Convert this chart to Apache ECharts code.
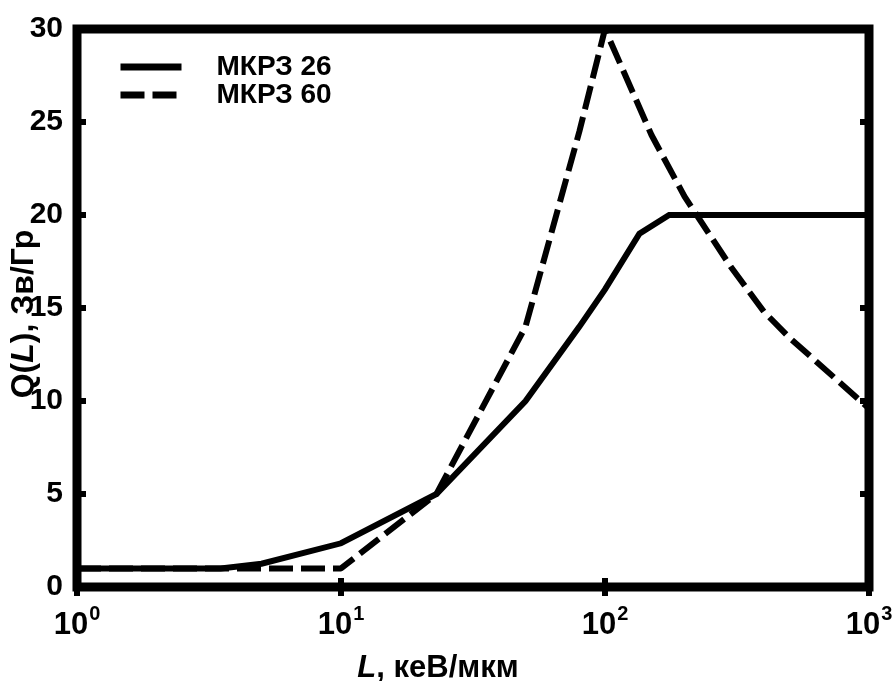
<!DOCTYPE html>
<html>
<head>
<meta charset="utf-8">
<script src="https://cdn.jsdelivr.net/npm/echarts@6/dist/echarts.min.js"></script>
<style>
  html, body { margin: 0; padding: 0; background: #fff; }
  #chart { width: 896px; height: 681px; }
</style>
</head>
<body>
<div id="chart"></div>
<script>
// L, keV/um  ->  Q(L), Sv/Gy
const seriesNames = ['МКРЗ 26', 'МКРЗ 60']
const icrp26 = [[1, 1], [3.5, 1], [5, 1.25], [10, 2.35], [23, 5], [50, 10], [80, 14], [100, 16], [135, 19], [175, 20], [1000, 20]]
const icrp60 = [[1, 1], [10, 1], [23, 5], [50, 14], [80, 24.5], [100, 30], [150, 24.3], [200, 21], [300, 17.2], [400, 14.8], [500, 13.4], [1000, 9.6]]
const yTicks = [0, 5, 10, 15, 20, 25, 30]

const font = 'Liberation Sans, Arial, sans-serif'
const chart = echarts.init(document.getElementById('chart'))

const tickStyle = { show: true, inside: true, length: 9, lineStyle: { color: '#000', width: 6 } }

chart.setOption({
  animation: false,
  backgroundColor: '#fff',
  grid: {
    left: 77,
    right: 27,
    top: 29,
    bottom: 94,
    outerBoundsMode: 'none',
    containLabel: false,
    show: true,
    borderColor: '#000',
    borderWidth: 9,
    backgroundColor: 'transparent'
  },
  legend: {
    orient: 'vertical',
    left: 112,
    top: 48,
    itemWidth: 61,
    itemHeight: 28,
    itemGap: 0,
    data: seriesNames,
    itemStyle: { opacity: 0 },
    lineStyle: { width: 7 },
    textStyle: {
      fontFamily: font,
      fontWeight: 'bold',
      fontSize: 28,
      color: '#000',
      lineHeight: 28,
      padding: [0, 0, 0, 30]
    }
  },
  xAxis: [
    {
      type: 'log',
      logBase: 10,
      min: 1,
      max: 1000,
      position: 'bottom',
      axisLine: { show: false },
      axisTick: tickStyle,
      splitLine: { show: false },
      minorTick: { show: false },
      axisLabel: {
        margin: 17,
        formatter: v => '{b|10}{s|' + Math.round(Math.log10(v)) + '}',
        rich: {
          b: { fontFamily: font, fontWeight: 'bold', fontSize: 31, color: '#000' },
          s: { fontFamily: font, fontWeight: 'bold', fontSize: 20, color: '#000', padding: [0, 0, 22, 1] }
        }
      },
      name: '{i|L}{n|, кеВ/мкм}',
      nameLocation: 'middle',
      nameGap: 66,
      nameMoveOverlap: false,
      nameTextStyle: {
        padding: [0, 70, 0, 0],
        rich: {
          i: { fontFamily: font, fontWeight: 'bold', fontStyle: 'italic', fontSize: 31, color: '#000' },
          n: { fontFamily: font, fontWeight: 'bold', fontSize: 31, color: '#000' }
        }
      }
    },
    {
      type: 'log',
      logBase: 10,
      min: 1,
      max: 1000,
      position: 'top',
      axisLine: { show: false },
      axisTick: tickStyle,
      axisLabel: { show: false },
      splitLine: { show: false }
    }
  ],
  yAxis: [
    {
      type: 'value',
      min: yTicks[0],
      max: yTicks[yTicks.length - 1],
      interval: 5,
      position: 'left',
      axisLine: { show: false },
      axisTick: tickStyle,
      splitLine: { show: false },
      axisLabel: {
        margin: 14,
        fontFamily: font,
        fontWeight: 'bold',
        fontSize: 30,
        color: '#000'
      },
      name: '{i|Q(}{j|L}{i|), Зв/Гр}',
      nameLocation: 'middle',
      nameRotate: 90,
      nameGap: 37,
      nameMoveOverlap: false,
      nameTextStyle: {
        padding: [0, 12, 0, 0],
        rich: {
          i: { fontFamily: font, fontWeight: 'bold', fontSize: 32, color: '#000' },
          j: { fontFamily: font, fontWeight: 'bold', fontStyle: 'italic', fontSize: 32, color: '#000' }
        }
      }
    },
    {
      type: 'value',
      min: yTicks[0],
      max: yTicks[yTicks.length - 1],
      interval: 5,
      position: 'right',
      axisLine: { show: false },
      axisTick: tickStyle,
      axisLabel: { show: false },
      splitLine: { show: false }
    }
  ],
  series: [
    {
      name: seriesNames[0],
      type: 'line',
      data: icrp26,
      symbol: 'none',
      clip: false,
      color: '#000',
      lineStyle: { color: '#000', width: 6, type: 'solid', join: 'miter' }
    },
    {
      name: seriesNames[1],
      type: 'line',
      data: icrp60,
      symbol: 'none',
      clip: false,
      color: '#000',
      lineStyle: { color: '#000', width: 6, type: [24, 8] }
    }
  ]
})
</script>
</body>
</html>
